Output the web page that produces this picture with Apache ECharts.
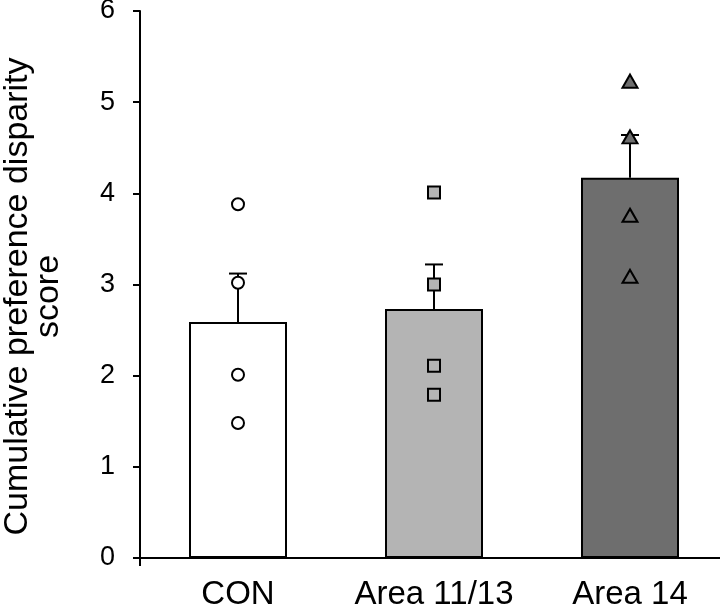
<!DOCTYPE html>
<html>
<head>
<meta charset="utf-8">
<style>
  html, body { margin: 0; padding: 0; background: #ffffff; }
  #chart { width: 720px; height: 608px; }
</style>
<script src="https://cdn.jsdelivr.net/npm/echarts@6/dist/echarts.min.js"></script>
</head>
<body>
<div id="chart"></div>
<script>
// ---- data ----
const categories = ['CON', 'Area 11/13', 'Area 14'];
const means = [2.59, 2.73, 4.17];
const sems = [0.53, 0.49, 0.47];
const conPoints = [3.88, 3.02, 2.01, 1.48];
const area1113Points = [4.01, 3.00, 2.11, 1.79];
const area14Points = [5.23, 4.62, 3.76, 3.09];
const yTicks = [0, 1, 2, 3, 4, 5, 6];
const yTitle = 'Cumulative preference disparity\nscore';

// ---- styles ----
const barColors = ['#ffffff', '#b4b4b4', '#6e6e6e'];
const FONT = 'Liberation Sans, Arial, Helvetica, sans-serif';

const chart = echarts.init(document.getElementById('chart'), null, { renderer: 'canvas' });

const barData = means.map((v, i) => ({
  value: v,
  itemStyle: { color: barColors[i] }
}));
const errData = means.map((v, i) => [i, v, sems[i]]);

function pts(idx, arr) { return arr.map(v => [idx, v]); }

const option = {
  backgroundColor: '#ffffff',
  animation: false,
  grid: { left: 140, right: -8, top: 11, bottom: 50, containLabel: false, outerBoundsMode: 'none' },
  xAxis: [{
    type: 'category',
    data: categories,
    boundaryGap: true,
    axisLine: { lineStyle: { color: '#000', width: 2 } },
    axisTick: { alignWithLabel: true, length: 7, lineStyle: { color: '#000', width: 2 } },
    axisLabel: { color: '#000', fontSize: 33, fontFamily: FONT, margin: 20, interval: 0, hideOverlap: false },
    splitLine: { show: false }
  }, {
    type: 'category',
    data: categories,
    position: 'bottom',
    boundaryGap: true,
    axisLine: { show: false },
    axisTick: { show: true, alignWithLabel: false, length: 8, interval: function (i) { return i === 0; }, lineStyle: { color: '#000', width: 2 } },
    axisLabel: { show: false },
    splitLine: { show: false }
  }],
  yAxis: {
    type: 'value',
    min: yTicks[0],
    max: yTicks[yTicks.length - 1],
    interval: 1,
    name: yTitle,
    nameLocation: 'middle',
    nameRotate: 90,
    nameGap: 76,
    nameTextStyle: { color: '#000', fontSize: 34, fontFamily: FONT, lineHeight: 31, align: 'center', padding: [0, 24, 0, 0] },
    axisLine: { show: true, lineStyle: { color: '#000', width: 2 } },
    axisTick: { show: true, length: 7, lineStyle: { color: '#000', width: 2 } },
    axisLabel: { color: '#000', fontSize: 27, fontFamily: FONT, margin: 25 },
    splitLine: { show: false }
  },
  series: [
    {
      type: 'bar',
      data: barData,
      barWidth: '50%',
      itemStyle: { borderColor: '#000', borderWidth: 2 },
      z: 2
    },
    {
      type: 'custom',
      data: errData,
      z: 3,
      renderItem: function (params, api) {
        const x = api.value(0);
        const m = api.value(1);
        const s = api.value(2);
        const p0 = api.coord([x, m]);
        const p1 = api.coord([x, m + s]);
        const half = 9;
        const style = { stroke: '#000', lineWidth: 2 };
        return {
          type: 'group',
          children: [
            { type: 'line', shape: { x1: p0[0], y1: p0[1], x2: p1[0], y2: p1[1] }, style: style },
            { type: 'line', shape: { x1: p1[0] - half, y1: p1[1], x2: p1[0] + half, y2: p1[1] }, style: style }
          ]
        };
      }
    },
    {
      type: 'scatter',
      data: pts(0, conPoints),
      symbol: 'circle',
      symbolSize: 12,
      itemStyle: { color: '#ffffff', borderColor: '#000', borderWidth: 2, opacity: 1 },
      z: 4
    },
    {
      type: 'scatter',
      data: pts(1, area1113Points),
      symbol: 'rect',
      symbolSize: 12,
      itemStyle: { color: '#b4b4b4', borderColor: '#000', borderWidth: 2, opacity: 1 },
      z: 4
    },
    {
      type: 'scatter',
      data: pts(2, area14Points),
      symbol: 'triangle',
      symbolSize: [15, 13],
      itemStyle: { color: '#6e6e6e', borderColor: '#000', borderWidth: 2, opacity: 1 },
      z: 4
    }
  ]
};

chart.setOption(option);
</script>
</body>
</html>
